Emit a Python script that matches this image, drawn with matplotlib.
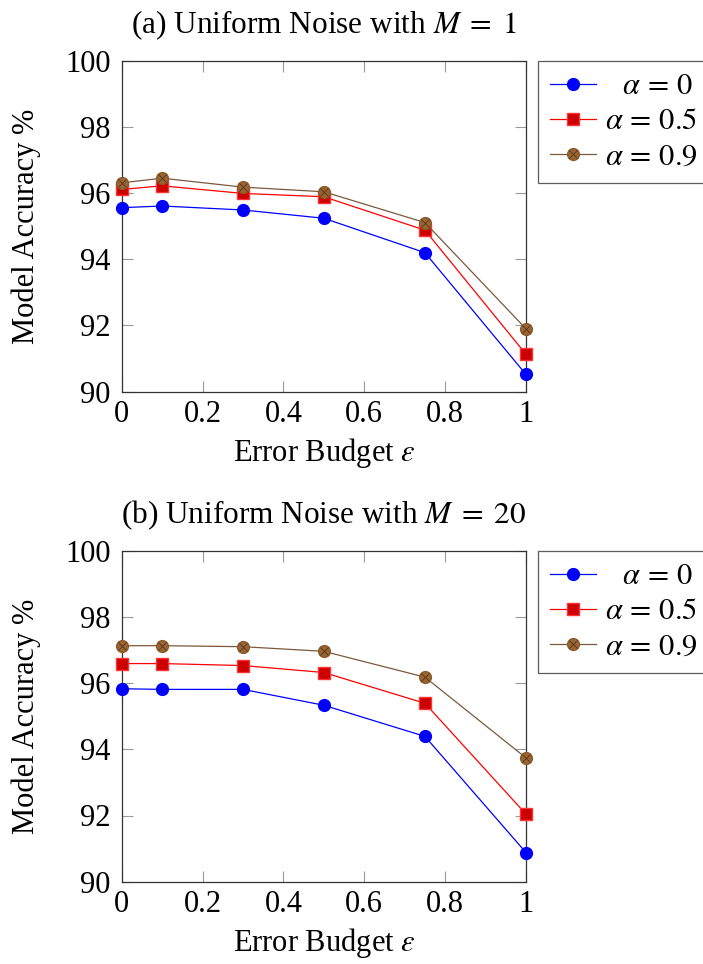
"""Model accuracy vs error budget for uniform noise, two panels."""
import matplotlib
matplotlib.use("Agg")
import matplotlib.pyplot as plt
from matplotlib.legend_handler import HandlerTuple
from matplotlib.ticker import FuncFormatter

plt.rcParams['font.family'] = ['Liberation Serif', 'DejaVu Serif']
plt.rcParams['mathtext.fontset'] = 'stix'
plt.rcParams['font.size'] = 22

# data
eps = [0, 0.1, 0.3, 0.5, 0.75, 1]
titles = ["(a) Uniform Noise with $M\\; =\\; 1$", "(b) Uniform Noise with $M\\; =\\; 20$"]
acc_m1_a0 = [95.56, 95.61, 95.49, 95.24, 94.20, 90.52]
acc_m1_a05 = [96.11, 96.22, 95.99, 95.89, 94.88, 91.13]
acc_m1_a09 = [96.31, 96.45, 96.18, 96.04, 95.11, 91.90]
acc_m20_a0 = [95.83, 95.81, 95.81, 95.33, 94.39, 90.88]
acc_m20_a05 = [96.59, 96.59, 96.53, 96.32, 95.39, 92.04]
acc_m20_a09 = [97.13, 97.13, 97.10, 96.96, 96.18, 93.74]
labels = [r"$\enspace\;\alpha\, =\, 0$", r"$\alpha\, =\, 0.5$", r"$\alpha\, =\, 0.9$"]

W, H = 703, 964
fig = plt.figure(figsize=(W / 100, H / 100), dpi=100)


def draw_panel(ax, title, series):
    """Draw the three alpha curves on one axes."""
    blue, red, brown = series
    h1, = ax.plot(eps, blue, color=(0, 0, 1), lw=0.9, marker='o', ms=8.5,
                  mfc=(0, 0, 1), mec=(0, 0, 1), clip_on=False, zorder=3)
    h2, = ax.plot(eps, red, color=(1, 0, 0), lw=0.9, marker='s', ms=8,
                  mfc=(0.8, 0, 0), mec=(1, 0.2, 0.2), clip_on=False, zorder=3)
    h3, = ax.plot(eps, brown, color='#7a5a3c', lw=0.9, marker='o', ms=8.5,
                  mfc='#996633', mec='#8a5a2a', clip_on=False, zorder=3)
    h3x, = ax.plot(eps, brown, ls='none', marker='x', ms=6, mew=0.7,
                   color='#5a3a1a', clip_on=False, zorder=4)

    ax.set_xlim(0, 1)
    ax.set_ylim(90, 100)
    ax.set_xticks([0, 0.2, 0.4, 0.6, 0.8, 1])
    ax.set_yticks([90, 92, 94, 96, 98, 100])
    ax.xaxis.set_major_formatter(FuncFormatter(lambda v, p: '%g' % v))
    ax.tick_params(direction='in', top=True, right=True, length=8,
                   width=0.8, color='0.6')
    ax.tick_params(axis='x', pad=6)
    ax.tick_params(axis='y', pad=8)
    for sp in ax.spines.values():
        sp.set_color('0.2')
        sp.set_linewidth(0.9)
    ax.set_title(title, pad=20, fontsize=22.5)
    ax.set_xlabel(r"Error Budget $\varepsilon$", labelpad=5)
    ax.set_ylabel("Model Accuracy %", labelpad=17)

    leg = ax.legend([h1, h2, (h3, h3x)], labels, loc='upper left',
                    bbox_to_anchor=(1.03, 1.0), frameon=True, fancybox=False,
                    edgecolor='0.2', borderaxespad=0, handlelength=1.5,
                    handletextpad=0.3, borderpad=0.38, labelspacing=0.2,
                    handler_map={tuple: HandlerTuple(ndivide=1)})
    leg.get_frame().set_linewidth(0.9)


ax1 = fig.add_axes([121.7 / W, 1 - 391.7 / H, 404.3 / W, 331 / H])
draw_panel(ax1, titles[0], (acc_m1_a0, acc_m1_a05, acc_m1_a09))

ax2 = fig.add_axes([121.7 / W, 1 - 881.7 / H, 404.3 / W, 331 / H])
draw_panel(ax2, titles[1], (acc_m20_a0, acc_m20_a05, acc_m20_a09))

fig.savefig("out.png", dpi=100)
